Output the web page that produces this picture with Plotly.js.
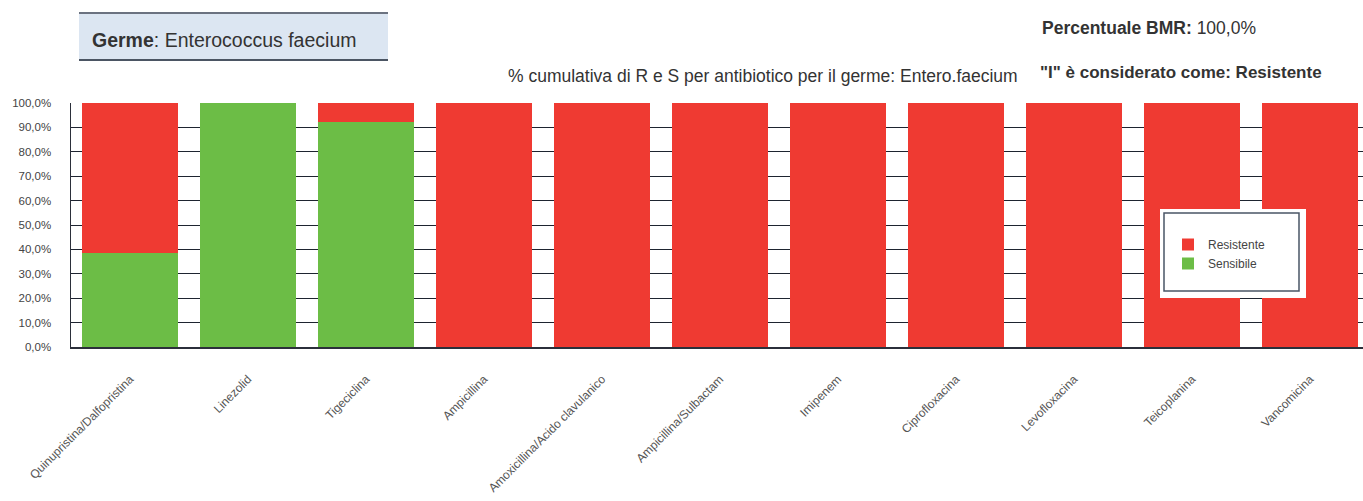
<!DOCTYPE html>
<html>
<head>
<meta charset="utf-8">
<script src="https://cdn.plot.ly/plotly-3.0.1.min.js"></script>
<style>html,body{margin:0;padding:0;background:#fff;}#chart{width:1363px;height:501px;}</style>
</head>
<body>
<div id="chart"></div>
<script>
// ---- data ----
const antibiotics = [
  "Quinupristina/Dalfopristina",
  "Linezolid",
  "Tigeciclina",
  "Ampicillina",
  "Amoxicillina/Acido clavulanico",
  "Ampicillina/Sulbactam",
  "Imipenem",
  "Ciprofloxacina",
  "Levofloxacina",
  "Teicoplanina",
  "Vancomicina"
];
const sensibile  = [38.5, 100, 92.3, 0, 0, 0, 0, 0, 0, 0, 0];
const resistente = [61.5, 0, 7.7, 100, 100, 100, 100, 100, 100, 100, 100];
const yTicks = [0, 10, 20, 30, 40, 50, 60, 70, 80, 90, 100];
const yTickText = yTicks.map(v => v.toFixed(1).replace('.', ',') + '%');

// ---- layout helpers (pixel -> paper) ----
const L = 71, T = 103, W = 1363, H = 501, B = 154;
const PW = W - L, PH = H - T - B;
const px = x => (x - L) / PW;
const py = y => (T + PH - y) / PH;

const RED = '#ef3a32', GREEN = '#6cbd46';
const FONT = '"Liberation Sans", Arial, sans-serif';

const traces = [
  {type: 'bar', name: 'Sensibile', x: antibiotics, y: sensibile, marker: {color: GREEN}},
  {type: 'bar', name: 'Resistente', x: antibiotics, y: resistente, marker: {color: RED}}
];

const layout = {
  width: W, height: H,
  margin: {l: L, r: 0, t: T, b: B, pad: 0},
  paper_bgcolor: '#ffffff', plot_bgcolor: '#ffffff',
  font: {family: FONT, color: '#333'},
  barmode: 'stack',
  bargap: 0.19,
  showlegend: true,
  legend: {
    x: px(1168), y: py(230), xanchor: 'left', yanchor: 'top',
    bgcolor: 'rgba(0,0,0,0)', borderwidth: 0,
    traceorder: 'reversed',
    font: {size: 12, color: '#444', family: FONT}
  },
  xaxis: {
    type: 'category',
    range: [-0.5, 10.45],
    tickangle: -45,
    ticks: 'outside', ticklen: 19, tickcolor: 'rgba(0,0,0,0)',
    tickfont: {size: 12, color: '#555', family: FONT},
    showline: true, linecolor: '#2b2f3a', linewidth: 1.5,
    showgrid: false, zeroline: false, fixedrange: true
  },
  yaxis: {
    range: [0, 100],
    tickmode: 'array', tickvals: yTicks, ticktext: yTickText,
    ticks: 'outside', ticklen: 16, tickcolor: 'rgba(0,0,0,0)',
    tickfont: {size: 11.5, color: '#444', family: FONT},
    showline: true, linecolor: '#2b2f3a', linewidth: 1.5,
    showgrid: true, gridcolor: '#1e2430', gridwidth: 1,
    zeroline: false, fixedrange: true
  },
  shapes: [
    // title box
    {type: 'rect', xref: 'paper', yref: 'paper', x0: px(79), x1: px(388), y0: py(60), y1: py(13),
     fillcolor: '#dce6f2', line: {width: 0}, layer: 'below'},
    {type: 'line', xref: 'paper', yref: 'paper', x0: px(79), x1: px(388), y0: py(13), y1: py(13),
     line: {color: '#6b7280', width: 2}},
    {type: 'line', xref: 'paper', yref: 'paper', x0: px(79), x1: px(388), y0: py(60), y1: py(60),
     line: {color: '#4b5563', width: 2}},
    // legend frame
    {type: 'rect', xref: 'paper', yref: 'paper', x0: px(1160), x1: px(1306), y0: py(298), y1: py(209),
     fillcolor: '#ffffff', line: {width: 0}, layer: 'above'},
    {type: 'rect', xref: 'paper', yref: 'paper', x0: px(1164), x1: px(1299), y0: py(291), y1: py(213),
     fillcolor: 'rgba(0,0,0,0)', line: {color: '#4a5666', width: 1.5}, layer: 'above'}
  ],
  annotations: [
    {xref: 'paper', yref: 'paper', x: px(90), y: py(40), xanchor: 'left', yanchor: 'middle', showarrow: false,
     text: '<b>Germe</b>: Enterococcus faecium', font: {size: 19.5, color: '#333', family: FONT}},
    {xref: 'paper', yref: 'paper', x: px(1040), y: py(28), xanchor: 'left', yanchor: 'middle', showarrow: false,
     text: '<b>Percentuale BMR:</b> 100,0%', font: {size: 17.5, color: '#333', family: FONT}},
    {xref: 'paper', yref: 'paper', x: px(1020), y: py(76), xanchor: 'right', yanchor: 'middle', showarrow: false,
     text: '% cumulativa di R e S per antibiotico per il germe: Entero.faecium', font: {size: 17.5, color: '#333', family: FONT}},
    {xref: 'paper', yref: 'paper', x: px(1038), y: py(72), xanchor: 'left', yanchor: 'middle', showarrow: false,
     text: '<b>"I" è considerato come: Resistente</b>', font: {size: 17, color: '#333', family: FONT}}
  ]
};

Plotly.newPlot('chart', traces, layout, {displayModeBar: false, staticPlot: true});
</script>
</body>
</html>
